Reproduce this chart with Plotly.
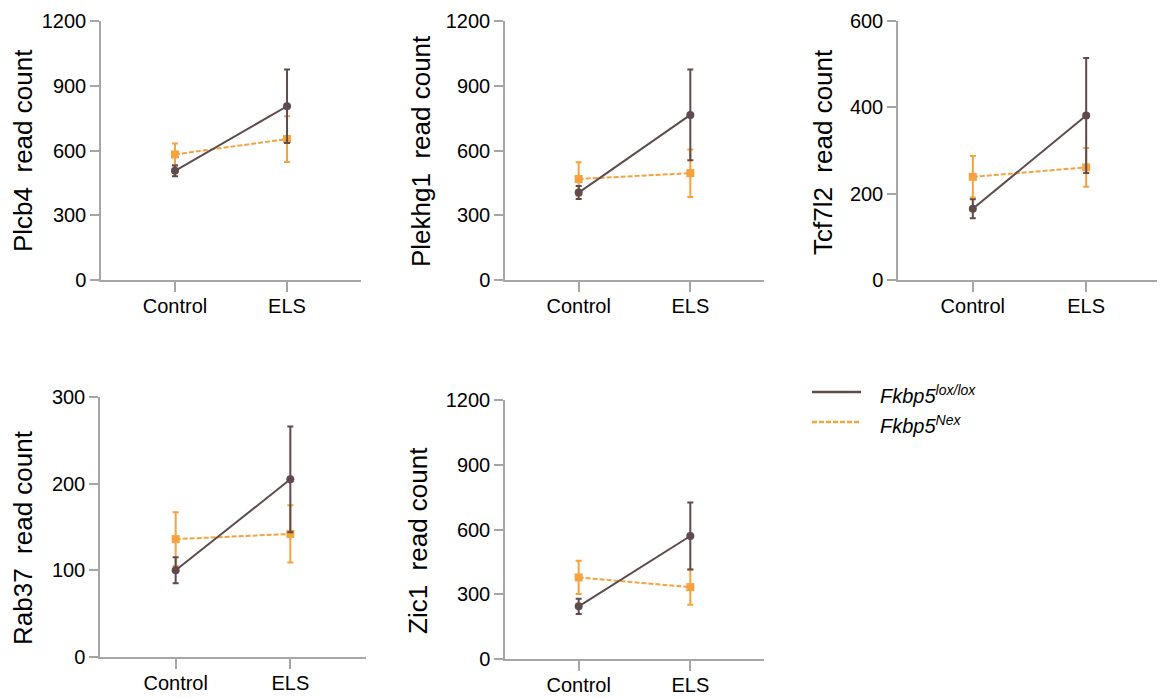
import plotly.graph_objects as go

categories = ["Control", "ELS"]
genes = ["Plcb4", "Plekhg1", "Tcf7l2", "Rab37", "Zic1"]
y_max = [1200, 1200, 600, 300, 1200]
y_dtick = [300, 300, 200, 100, 300]

lox_mean = {"Plcb4": [506, 805], "Plekhg1": [405, 765], "Tcf7l2": [165, 381],
            "Rab37": [100, 205], "Zic1": [244, 570]}
lox_err = {"Plcb4": [25, 170], "Plekhg1": [30, 210], "Tcf7l2": [22, 133],
           "Rab37": [15, 61], "Zic1": [35, 155]}
nex_mean = {"Plcb4": [582, 653], "Plekhg1": [468, 495], "Tcf7l2": [239, 261],
            "Rab37": [136, 142], "Zic1": [378, 333]}
nex_err = {"Plcb4": [50, 106], "Plekhg1": [78, 110], "Tcf7l2": [48, 45],
           "Rab37": [31, 33], "Zic1": [77, 82]}

LOX_COLOR = "#5f4b4b"
NEX_COLOR = "#f6a23e"
AXIS_COLOR = "#a6a6a6"
FONT = "Liberation Sans, Arial"
NEX_DASH = "5px,2px"
W, H = 1165, 698
OFF = 8  # page body margin


def px(p):
    return (p - OFF) / W


def py(p):
    return 1 - (p - OFF) / H


# pixel layout of plot areas in the screenshot: (left, right, top, bottom)
areas = [(101, 361, 21, 280), (505, 764, 21, 280), (898, 1161, 21, 280),
         (100, 366, 397, 657), (505, 764, 400, 659)]
title_pos = [(23, 151), (421, 151), (823, 152), (23, 538), (418, 541)]

fig = go.Figure()
xvals = [0, 1]
for i, g in enumerate(genes):
    ax = "" if i == 0 else str(i + 1)
    xa, ya = "x" + ax, "y" + ax
    fig.add_trace(go.Scatter(
        x=xvals, y=nex_mean[g], xaxis=xa, yaxis=ya, mode="lines+markers",
        line=dict(color=NEX_COLOR, width=2, dash=NEX_DASH),
        marker=dict(symbol="square", size=8, color=NEX_COLOR),
        error_y=dict(type="data", array=nex_err[g], color=NEX_COLOR, thickness=2, width=3),
        showlegend=False))
    fig.add_trace(go.Scatter(
        x=xvals, y=lox_mean[g], xaxis=xa, yaxis=ya, mode="lines+markers",
        line=dict(color=LOX_COLOR, width=2),
        marker=dict(symbol="circle", size=8, color=LOX_COLOR),
        error_y=dict(type="data", array=lox_err[g], color=LOX_COLOR, thickness=2, width=3),
        showlegend=False))
    l, r, t, b = areas[i]
    fig.update_layout(**{
        "xaxis" + ax: dict(domain=[px(l), px(r)], range=[-0.66, 1.66], anchor=ya,
                           tickvals=xvals, ticktext=categories, showline=True,
                           linecolor=AXIS_COLOR, linewidth=1.5, ticks="outside",
                           ticklen=10, tickcolor=AXIS_COLOR, tickwidth=1.5,
                           ticklabelstandoff=-3,
                           showgrid=False, zeroline=False, fixedrange=True, automargin=False,
                           tickfont=dict(family=FONT, size=20, color="black")),
        "yaxis" + ax: dict(domain=[py(b), py(t)], range=[0, y_max[i]], anchor=xa,
                           dtick=y_dtick[i], tick0=0, showline=True,
                           linecolor=AXIS_COLOR, linewidth=1.5, ticks="outside",
                           ticklen=9, tickcolor=AXIS_COLOR, tickwidth=1.5,
                           showgrid=False, zeroline=False, fixedrange=True, automargin=False,
                           tickfont=dict(family=FONT, size=20, color="black")),
    })
    tx, ty = title_pos[i]
    fig.add_annotation(x=px(tx), y=py(ty), xref="paper", yref="paper",
                       text=g + "\u00a0\u00a0read count", textangle=-90, showarrow=False,
                       font=dict(family=FONT, size=26, color="black"),
                       xanchor="center", yanchor="middle")

# legend
legend_items = [("Fkbp5", "lox/lox", LOX_COLOR, "solid", 392),
                ("Fkbp5", "Nex", NEX_COLOR, NEX_DASH, 422)]
for name, sup, col, dash, ly in legend_items:
    fig.add_shape(type="line", xref="paper", yref="paper",
                  x0=px(812), x1=px(861), y0=py(ly), y1=py(ly),
                  line=dict(color=col, width=2.5, dash=dash))
    fig.add_annotation(x=px(878), y=py(ly + 2), xref="paper", yref="paper",
                       text="<i>%s<sup>%s</sup></i>" % (name, sup), showarrow=False,
                       xanchor="left", yanchor="middle",
                       font=dict(family=FONT, size=20, color="black"))

fig.update_layout(width=W, height=H, margin=dict(l=0, r=0, t=0, b=0),
                  paper_bgcolor="white", plot_bgcolor="white", template="none")
fig.write_html("out.html")
